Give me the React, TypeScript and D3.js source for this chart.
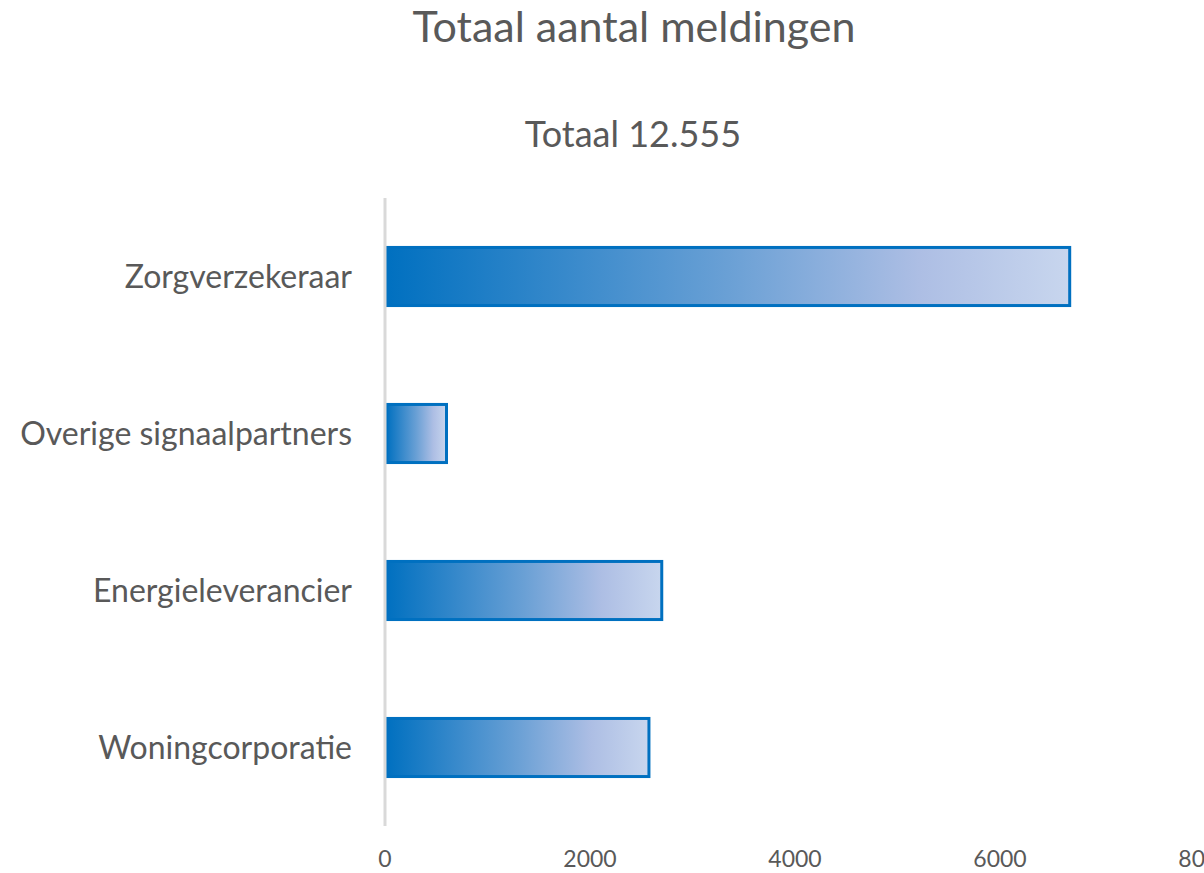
import React from 'react';
import * as d3 from 'd3';

// categories top to bottom
const categories = ['Zorgverzekeraar', 'Overige signaalpartners', 'Energieleverancier', 'Woningcorporatie'];
const values = [6680, 600, 2700, 2575];
const xTicks = [0, 2000, 4000, 6000, 8000];
const title = 'Totaal aantal meldingen';
const subtitle = 'Totaal 12.555';

const width = 1204;
const height = 873;
const font = 'Lato, "Open Sans", sans-serif';
const textColor = '#595959';

export default function App() {
  const x = d3.scaleLinear().domain([0, 8000]).range([385, 1205]);
  const y = d3.scaleBand<string>()
    .domain(categories)
    .range([198, 826])
    .paddingInner(0.63)
    .paddingOuter(0.315);

  return (
    <svg
      width={width}
      height={height}
      style={{ position: 'absolute', left: 0, top: 0, background: '#fff' }}
    >
      <defs>
        <linearGradient id="barGrad" x1="0" x2="1" y1="0" y2="0">
          <stop offset="0" stopColor="#0070c0" />
          <stop offset="0.5" stopColor="#6aa0d5" />
          <stop offset="0.78" stopColor="#adbee4" />
          <stop offset="1" stopColor="#c8d6ee" />
        </linearGradient>
      </defs>

      {/* titles */}
      <text x={634} y={42} textAnchor="middle" fontFamily={font} fontSize={43} fill={textColor}>
        {title}
      </text>
      <text x={633} y={147} textAnchor="middle" fontFamily={font} fontSize={36} fill={textColor}>
        {subtitle}
      </text>

      {/* bars */}
      {categories.map((c, i) => (
        <rect
          key={c}
          x={x(0) + 1.5}
          y={y(c)}
          width={x(values[i]) - x(0) - 1.5}
          height={y.bandwidth()}
          fill="url(#barGrad)"
          stroke="#0070c0"
          strokeWidth={3}
        />
      ))}

      {/* category axis line */}
      <line x1={x(0)} x2={x(0)} y1={198} y2={826} stroke="#d9d9d9" strokeWidth={3} />

      {/* category labels */}
      {categories.map(c => (
        <text
          key={c}
          x={352}
          y={(y(c) ?? 0) + y.bandwidth() / 2}
          dy="0.35em"
          textAnchor="end"
          fontFamily={font}
          fontSize={32}
          fill={textColor}
        >
          {c}
        </text>
      ))}

      {/* value tick labels */}
      {xTicks.map(t => (
        <text
          key={t}
          x={x(t)}
          y={867}
          textAnchor="middle"
          fontFamily={font}
          fontSize={23}
          fill={textColor}
        >
          {t}
        </text>
      ))}
    </svg>
  );
}
